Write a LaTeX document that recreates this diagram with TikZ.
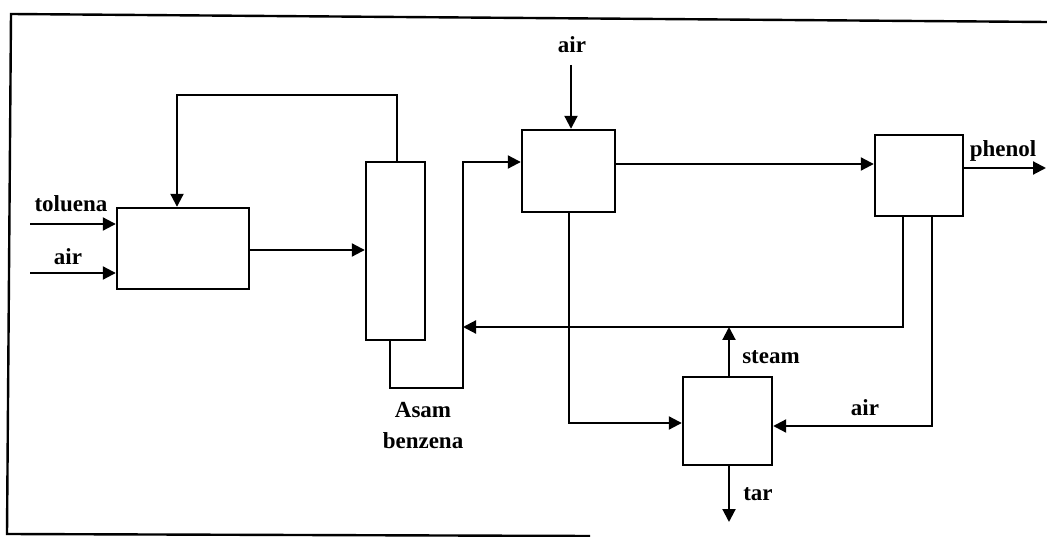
\documentclass[tikz,border=0pt]{standalone}
\usepackage{fontspec}
\setmainfont{Liberation Serif}
\usetikzlibrary{arrows.meta,calc}
\begin{document}
\begin{tikzpicture}[x=1pt,y=-1pt,
  line width=2.1pt,
  unit/.style={draw,line width=2.4pt,inner sep=0pt,fill=white},
  flow/.style={-{Triangle[length=13pt,width=13pt]},line width=2.1pt},
  lbl/.style={inner sep=0pt,anchor=base,font=\fontsize{23}{31}\selectfont\bfseries}
]
\useasboundingbox (0,0) rectangle (1047,537);
% frame
\draw[line width=2.4pt] (1047,22) -- (11,14) -- (7,534) -- (590,536);
% units
\node[unit,minimum width=132pt,minimum height=81pt] (A) at (183,248.5) {};
\node[unit,minimum width=59pt,minimum height=178pt] (B) at (395.5,251) {};
\node[unit,minimum width=93pt,minimum height=82pt] (C) at (568.5,171) {};
\node[unit,minimum width=88pt,minimum height=81pt] (D) at (919,175.5) {};
\node[unit,minimum width=89pt,minimum height=88pt] (E) at (727.5,421) {};
% helper coordinates
\coordinate (tin) at (30,224);
\coordinate (ain) at (30,273);
\coordinate (r1) at (177,95);
\coordinate (b1) at (390,388);
\coordinate (b2) at (463,388);
\coordinate (b3) at (463,162);
\coordinate (cair) at (571,65);
\coordinate (cd) at (615,164);
\coordinate (ph) at (1046,168);
\coordinate (d1) at (903,327);
\coordinate (d2) at (932,426);
\coordinate (c1) at (569,423);
\coordinate (tar) at (729,522);
% connectors
\draw[flow] (tin) -- (tin -| A.west);
\draw[flow] (ain) -- (ain -| A.west);
\draw[flow] (A.east |- 0,250) -- (B.west |- 0,250);
\draw[flow] (B.north -| 397,0) |- (r1) -- (r1 |- A.north);
\draw[flow] (b1 |- B.south) -- (b1) -- (b2) -- (b3) -- (b3 -| C.west);
\draw[flow] (cair) -- (cair |- C.north);
\draw[flow] (cd -| C.east) -- (cd -| D.west);
\draw[flow] (ph -| D.east) -- (ph);
\draw[flow] (d1 |- D.south) -- (d1) -- (d1 -| b2);
\draw[flow] (d2 |- D.south) -- (d2) -- (d2 -| E.east);
\draw[flow] (c1 |- C.south) -- (c1) -- (c1 -| E.west);
\draw[flow] (E.north -| 729,0) -- (d1 -| 729,0);
\draw[flow] (E.south -| 729,0) -- (tar);
% labels
\node[lbl] (lt) at (71,212) {toluena};
\node[lbl] (la1) at (68,265) {air};
\node[lbl] (la2) at (572,53) {air};
\node[lbl] (lp) at (1003,157) {phenol};
\node[lbl,align=center] (lab) at (423,448) {Asam\\benzena};
\node[lbl] (ls) at (771,363) {steam};
\node[lbl] (la3) at (865,415) {air};
\node[lbl] (ltar) at (758,500) {tar};
\end{tikzpicture}
\end{document}
